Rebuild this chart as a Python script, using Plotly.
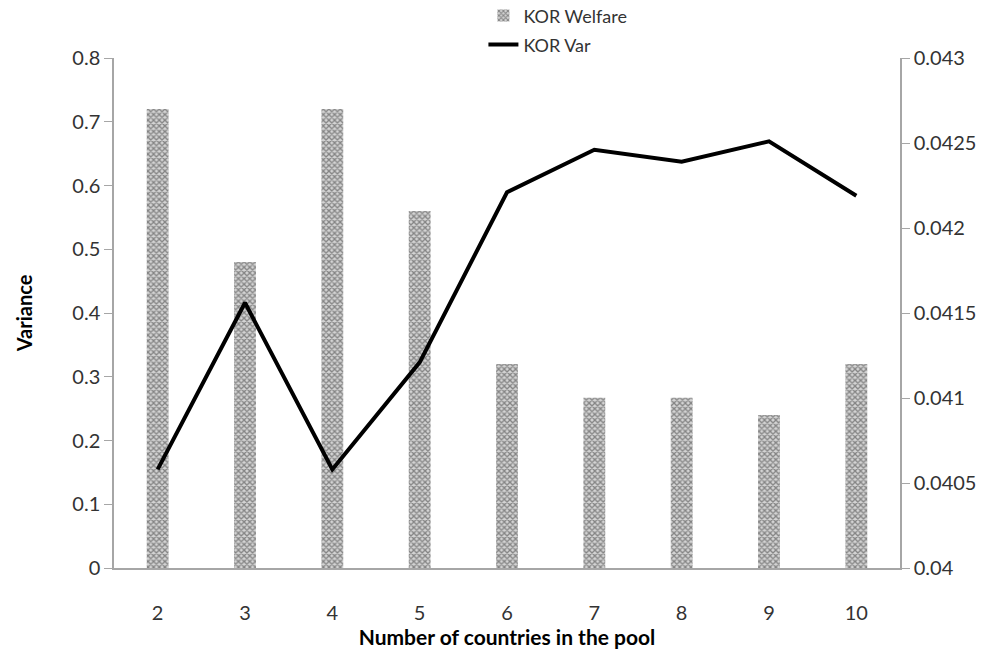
import plotly.graph_objects as go

# Pool sizes on the category axis
pool_sizes = ["2", "3", "4", "5", "6", "7", "8", "9", "10"]

# Welfare (left axis) and variance (right axis) for KOR
kor_welfare = [0.72, 0.48, 0.72, 0.56, 0.32, 0.267, 0.267, 0.24, 0.32]
kor_var = [0.04058, 0.04156, 0.04058, 0.04121, 0.04221, 0.04246, 0.04239, 0.04251, 0.04219]

left_ticks = [0, 0.1, 0.2, 0.3, 0.4, 0.5, 0.6, 0.7, 0.8]
left_ticktext = ["0", "0.1", "0.2", "0.3", "0.4", "0.5", "0.6", "0.7", "0.8"]
right_ticks = [0.04, 0.0405, 0.041, 0.0415, 0.042, 0.0425, 0.043]
right_ticktext = ["0.04", "0.0405", "0.041", "0.0415", "0.042", "0.0425", "0.043"]

FONT = "Lato, 'Open Sans', sans-serif"
AXIS_GREY = "#a6a6a6"
TEXT = "#333333"

fig = go.Figure()

fig.add_trace(go.Bar(
    x=pool_sizes,
    y=kor_welfare,
    name="KOR Welfare",
    width=0.25,
    marker=dict(
        color="#b0b0b0",
        line=dict(width=0),
        pattern=dict(shape="x", size=4, solidity=0.55, fgcolor="#333333", bgcolor="#d4d4d4"),
    ),
    legend="legend",
))

fig.add_trace(go.Scatter(
    x=pool_sizes,
    y=kor_var,
    name="KOR Var",
    mode="lines",
    line=dict(color="black", width=4),
    yaxis="y2",
    legend="legend2",
))

fig.update_layout(
    width=1004,
    height=652,
    margin=dict(l=114, r=104, t=58, b=84, autoexpand=False),
    paper_bgcolor="white",
    plot_bgcolor="white",
    font=dict(family=FONT, size=20, color=TEXT),
    bargap=0.75,
    xaxis=dict(
        type="category",
        showline=True,
        linecolor=AXIS_GREY,
        linewidth=1.5,
        ticks="",
        showgrid=False,
        ticklabelstandoff=26,
        tickfont=dict(size=20, color=TEXT),
        title=dict(
            text="<b>Number of countries in the pool</b>",
            font=dict(size=21, color="black"),
            standoff=0,
        ),
    ),
    yaxis=dict(
        range=[0, 0.8],
        tickvals=left_ticks,
        ticktext=left_ticktext,
        showline=True,
        linecolor=AXIS_GREY,
        linewidth=1.5,
        ticks="outside",
        ticklen=8,
        tickcolor=AXIS_GREY,
        showgrid=False,
        zeroline=False,
        tickfont=dict(size=20, color=TEXT),
        title=dict(
            text="<b>Variance</b>",
            font=dict(size=20, color="black"),
            standoff=34,
        ),
    ),
    yaxis2=dict(
        range=[0.04, 0.043],
        overlaying="y",
        side="right",
        tickvals=right_ticks,
        ticktext=right_ticktext,
        showline=True,
        linecolor=AXIS_GREY,
        linewidth=1.5,
        ticks="outside",
        ticklen=8,
        tickcolor=AXIS_GREY,
        showgrid=False,
        zeroline=False,
        tickfont=dict(size=20, color=TEXT),
    ),
    legend=dict(
        x=0.47, y=1.119, xanchor="left", yanchor="top",
        bgcolor="rgba(0,0,0,0)",
        font=dict(size=18, color=TEXT),
        itemwidth=30,
    ),
    legend2=dict(
        x=0.47, y=1.062, xanchor="left", yanchor="top",
        bgcolor="rgba(0,0,0,0)",
        font=dict(size=18, color=TEXT),
        itemwidth=30,
    ),
    showlegend=True,
)

fig.write_html("out.html")
